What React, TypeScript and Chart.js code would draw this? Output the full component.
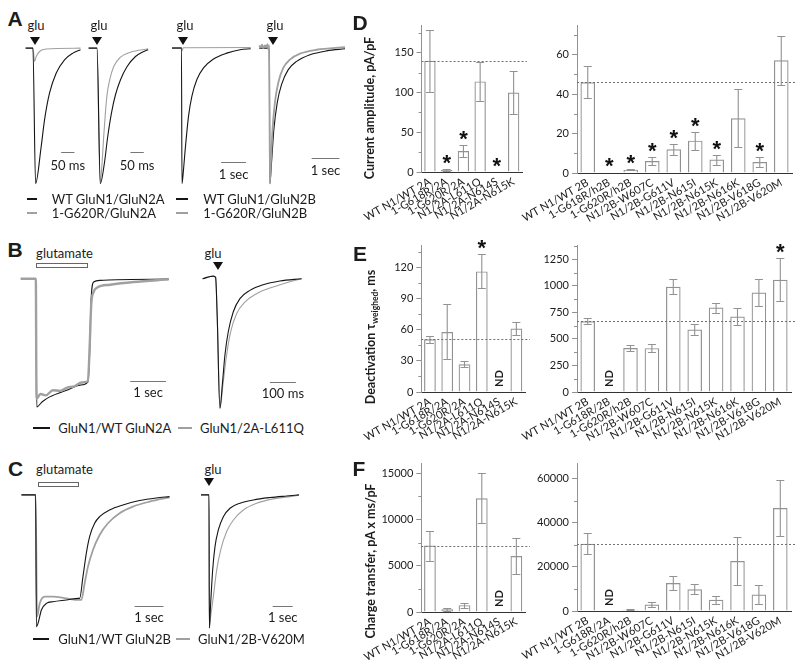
import React, { useEffect, useRef } from "react";
import { Chart, registerables } from "chart.js";

Chart.register(...registerables);

const FONT = "Lato, 'Open Sans', 'DejaVu Sans', sans-serif";
const LETTER_FONT = "'Liberation Sans', Arial, sans-serif";
const INK = "#1c1c1c";
const BLACK_TRACE = "#151515";
const GRAY_TRACE = "#a0a0a0";
const BAR_GRAY = "#929292";

// ---------------- Bar chart data ----------------
const LABELS_2A = ["WT N1/WT 2A", "1-G618R/2A", "1-G620R/2A", "N1/2A-L611Q", "N1/2A-N614S", "N1/2A-N615K"];
const LABELS_2B_REST = ["N1/2B-W607C", "N1/2B-G611V", "N1/2B-N615I", "N1/2B-N615K", "N1/2B-N616K", "N1/2B-V618G", "N1/2B-V620M"];
const LABELS_D_2B = ["WT N1/WT 2B", "1-G618R/h2B", "1-G620R/h2B", ...LABELS_2B_REST];
const LABELS_E_2B = ["WT N1/WT 2B", "1-G618R/2B", "1-G620R/h2B", ...LABELS_2B_REST];
const LABELS_F_2B = ["WT N1/WT 2B", "1-G618R/2A", "1-G620R/h2B", ...LABELS_2B_REST];

// D: current amplitude, pA/pF
const AMP_2A = [140, 2.5, 26.5, 114, 0, 100];
const AMP_2A_ERR = [39, 1, 8, 24.5, 0, 27];
const AMP_2A_STAR = [false, true, true, false, true, false];
const AMP_2B = [46, 0.2, 1.7, 6.1, 12, 16.4, 6.8, 27.7, 5.6, 57.1];
const AMP_2B_ERR = [8, 0, 0.4, 2, 2.7, 4.5, 2.5, 14.7, 2.7, 12.4];
const AMP_2B_STAR = [false, true, true, true, true, true, true, false, true, false];

// E: deactivation tau weighted, ms (null = ND)
const TAU_2A = [51, 58, 26.8, 116.5, null, 61.4];
const TAU_2A_ERR = [3.2, 26.6, 2.7, 16.5, 0, 6.5];
const TAU_2A_STAR = [false, false, false, true, false, false];
const TAU_2B = [667, null, 415, 413, 991, 589, 796, 712, 937, 1058];
const TAU_2B_ERR = [31, 0, 32, 36, 72, 48, 47, 84, 126, 200];
const TAU_2B_STAR = [false, false, false, false, false, false, false, false, false, true];

// F: charge transfer, pA x ms/pF (null = ND)
const Q_2A = [7177, 290, 740, 12290, null, 6040];
const Q_2A_ERR = [1620, 180, 270, 2680, 0, 1930];
const Q_2A_STAR = [false, false, false, false, false, false];
const Q_2B = [30450, null, 600, 2960, 12700, 9870, 5070, 22650, 7500, 46660];
const Q_2B_ERR = [4690, 0, 250, 990, 3180, 2270, 1900, 10830, 4320, 12580];
const Q_2B_STAR = [false, false, false, false, false, false, false, false, false, false];

// ---------------- Trace data: [time, normalized current] ----------------
type Pt = [number, number];
// A, GluN2A, time in ms
const A1_WT: Pt[] = [[0, 0], [27.6, 0], [37.6, -1], [58.6, -0.728], [71.2, -0.531], [90, -0.333], [115, -0.185], [146.6, -0.086], [178, -0.037], [206.8, -0.012]];
const A1_MUT: Pt[] = [[0, 0], [27.6, 0], [33.8, -0.099], [40, -0.062], [52.6, -0.025], [77.7, -0.007], [206.8, 0]];
const A2_WT: Pt[] = [[0, 0], [31.5, 0], [44, -1], [59, -0.852], [71.6, -0.654], [85.4, -0.481], [100.4, -0.346], [119.2, -0.235], [144.3, -0.136], [175.6, -0.062], [200.7, -0.03], [223.2, -0.012]];
const A2_MUT: Pt[] = [[0, 0], [31.5, 0], [43, -1], [50.3, -0.852], [56.5, -0.654], [62.8, -0.481], [69, -0.346], [79, -0.235], [94.1, -0.136], [119.2, -0.067], [156.8, -0.03], [223.2, -0.005]];
// A, GluN2B, time in s
const A3_WT: Pt[] = [[0, 0], [0.38, 0], [0.4, -1], [0.465, -0.89], [0.532, -0.744], [0.665, -0.5], [0.799, -0.354], [0.999, -0.232], [1.265, -0.146], [1.665, -0.08], [2.199, -0.037], [2.732, -0.012], [3.159, -0.005]];
const A3_MUT: Pt[] = [[0, 0.005], [0.38, 0.005], [0.4, -0.02], [0.45, 0.003], [3.159, 0.005]];
const A4_WT: Pt[] = [[0, 0], [0.36, 0], [0.385, -1], [0.445, -0.841], [0.529, -0.598], [0.65, -0.402], [0.806, -0.268], [1.047, -0.159], [1.348, -0.098], [1.829, -0.049], [2.431, -0.02], [3.093, -0.005]];
const A4_MUT: Pt[] = [[0, 0.02], [0.05, 0.005], [0.1, 0.025], [0.15, 0], [0.2, 0.02], [0.25, 0.01], [0.3, 0.03], [0.33, -0.01], [0.36, 0.02], [0.385, -1], [0.421, -0.841], [0.481, -0.598], [0.565, -0.402], [0.686, -0.256], [0.866, -0.146], [1.107, -0.085], [1.468, -0.041], [2.07, -0.012], [3.093, 0.007]];
// B, time in s (B1) and ms (B2)
const B1_WT: Pt[] = [[0, 0], [0.42, 0], [0.447, -1], [0.6, -0.96], [0.821, -0.92], [1.288, -0.87], [1.661, -0.83], [1.876, -0.805], [1.923, -0.6], [1.96, -0.2], [2.035, -0.026], [2.221, -0.013], [2.688, -0.008], [4.135, -0.003]];
const B1_MUT: Pt[] = [[0, 0], [0.42, 0], [0.44, -0.935], [0.55, -0.9], [0.7, -0.91], [0.9, -0.87], [1.1, -0.875], [1.3, -0.85], [1.5, -0.84], [1.7, -0.81], [1.876, -0.8], [1.93, -0.5], [1.97, -0.2], [2.035, -0.104], [2.128, -0.07], [2.5, -0.047], [3.155, -0.026], [4.135, -0.005]];
const B2_WT: Pt[] = [[0, 0], [41, 0.02], [50, 0.01], [56.3, -0.3], [66.5, -1.01], [76.8, -0.805], [85.8, -0.597], [98.6, -0.416], [117.8, -0.26], [143.5, -0.156], [181.9, -0.091], [233.2, -0.047], [297.3, -0.018], [380.7, 0]];
const B2_MUT: Pt[] = [[0, 0], [41, 0.02], [50, 0.01], [56.3, -0.3], [66.5, -1.01], [79.4, -0.805], [92.2, -0.597], [107.6, -0.416], [130.7, -0.273], [162.7, -0.182], [207.6, -0.117], [258.8, -0.073], [323, -0.031], [380.7, 0]];
// C, time in s
const C1_WT: Pt[] = [[0, 0], [0.49, 0], [0.516, -1], [0.573, -0.975], [0.689, -0.873], [0.861, -0.823], [1.091, -0.81], [1.551, -0.797], [1.976, -0.785], [2.01, -0.785], [2.125, -0.62], [2.24, -0.443], [2.355, -0.316], [2.528, -0.215], [2.7, -0.165], [3.045, -0.114], [3.505, -0.076], [4.079, -0.043], [4.654, -0.023], [5.114, -0.013]];
const C1_MUT: Pt[] = [[0, 0], [0.49, 0], [0.539, -0.924], [0.631, -0.823], [0.803, -0.772], [1.091, -0.772], [1.551, -0.785], [1.976, -0.797], [2.068, -0.797], [2.183, -0.671], [2.298, -0.544], [2.47, -0.418], [2.7, -0.304], [2.987, -0.215], [3.39, -0.139], [3.849, -0.089], [4.424, -0.051], [5.114, -0.018]];
const C2_WT: Pt[] = [[0, 0], [0.4, 0], [0.417, -1.01], [0.483, -0.823], [0.583, -0.57], [0.7, -0.392], [0.867, -0.266], [1.117, -0.165], [1.45, -0.101], [1.95, -0.063], [2.617, -0.038], [3.45, -0.02], [4.283, -0.008], [4.9, 0]];
const C2_MUT: Pt[] = [[0, 0], [0.4, 0], [0.417, -1.01], [0.483, -0.924], [0.617, -0.772], [0.783, -0.57], [0.983, -0.418], [1.283, -0.278], [1.617, -0.19], [2.117, -0.114], [2.783, -0.063], [3.617, -0.03], [4.45, -0.013], [4.9, -0.003]];

// ---------------- helpers ----------------
interface Series { data: Pt[]; color: string; width: number }
interface ScaleBar { x: number; y: number; len: number; label: string; dy: number }
interface TraceSpec {
  x0: number; kx: number; xMin: number; xMax: number;
  y0: number; ky: number; yMin: number; yMax: number;
  series: Series[]; bar: ScaleBar;
}

function makeScaleBar(bar: ScaleBar) {
  return {
    id: "scaleBar",
    afterDatasetsDraw(chart: any) {
      const { ctx, scales } = chart;
      const x1 = scales.x.getPixelForValue(bar.x);
      const x2 = scales.x.getPixelForValue(bar.x + bar.len);
      const y = Math.round(scales.y.getPixelForValue(bar.y)) + 0.5;
      ctx.save();
      ctx.strokeStyle = "#777";
      ctx.lineWidth = 1;
      ctx.beginPath();
      ctx.moveTo(x1, y);
      ctx.lineTo(x2, y);
      ctx.stroke();
      ctx.fillStyle = INK;
      ctx.font = `13px ${FONT}`;
      ctx.textAlign = "center";
      ctx.textBaseline = "middle";
      ctx.fillText(bar.label, (x1 + x2) / 2, y + bar.dy);
      ctx.restore();
    },
  };
}

function traceChart(spec: TraceSpec) {
  const left = Math.round(spec.x0 + spec.xMin * spec.kx);
  const top = Math.round(spec.y0 - spec.yMax * spec.ky);
  const width = Math.round((spec.xMax - spec.xMin) * spec.kx);
  const height = Math.round((spec.yMax - spec.yMin) * spec.ky);
  const build = () => ({
    type: "line",
    data: {
      datasets: spec.series.map((s) => ({
        data: s.data,
        borderColor: s.color,
        borderWidth: s.width,
        pointRadius: 0,
        fill: false,
        cubicInterpolationMode: "monotone",
      })),
    },
    options: {
      animation: false,
      responsive: false,
      events: [],
      layout: { padding: 0 },
      plugins: { legend: { display: false }, tooltip: { enabled: false } },
      scales: {
        x: { type: "linear", display: false, min: spec.xMin, max: spec.xMax },
        y: { type: "linear", display: false, min: spec.yMin, max: spec.yMax },
      },
    },
    plugins: [makeScaleBar(spec.bar)],
  });
  return { left, top, width, height, build };
}

interface BarSpec {
  labels: string[]; values: (number | null)[]; errs: number[]; stars: boolean[];
  yMax: number; step: number; minor: number;
  area: { l: number; r: number; t: number; b: number };
}

function drawStar(ctx: CanvasRenderingContext2D, cx: number, cy: number) {
  ctx.save();
  ctx.fillStyle = "#111";
  ctx.font = `bold 22px ${LETTER_FONT}`;
  ctx.textAlign = "center";
  ctx.textBaseline = "alphabetic";
  const m = ctx.measureText("*");
  const base = cy + (m.actualBoundingBoxAscent - m.actualBoundingBoxDescent) / 2;
  ctx.fillText("*", cx, base);
  ctx.restore();
}

function makeBarDecor(spec: BarSpec) {
  return {
    id: "barDecor",
    afterDatasetsDraw(chart: any) {
      const { ctx, chartArea: a, scales } = chart;
      const xs = scales.x, ys = scales.y;
      ctx.save();
      // minor ticks
      ctx.strokeStyle = BAR_GRAY;
      ctx.lineWidth = 1;
      for (let v = spec.minor; v < spec.yMax; v += 2 * spec.minor) {
        const py = Math.round(ys.getPixelForValue(v)) + 0.5;
        ctx.beginPath();
        ctx.moveTo(a.left - 3, py);
        ctx.lineTo(a.left, py);
        ctx.stroke();
      }
      // reference (WT) line
      const ref = spec.values[0] as number;
      const ry = Math.round(ys.getPixelForValue(ref)) + 0.5;
      ctx.strokeStyle = "#707070";
      ctx.setLineDash([2, 2]);
      ctx.beginPath();
      ctx.moveTo(a.left, ry);
      ctx.lineTo(a.right + 5, ry);
      ctx.stroke();
      ctx.setLineDash([]);
      spec.values.forEach((v, i) => {
        const px = xs.getPixelForValue(i);
        if (v === null) {
          ctx.save();
          ctx.translate(px, ys.getPixelForValue(0) - 5);
          ctx.rotate(-Math.PI / 2);
          ctx.fillStyle = INK;
          ctx.font = `bold 11px ${FONT}`;
          ctx.textAlign = "left";
          ctx.textBaseline = "middle";
          ctx.fillText("ND", 0, 0);
          ctx.restore();
          return;
        }
        const e = spec.errs[i];
        let topPx = ys.getPixelForValue(v);
        if (e > 0) {
          const y1 = Math.round(ys.getPixelForValue(v + e)) + 0.5;
          const y2 = Math.round(ys.getPixelForValue(Math.max(0, v - e))) + 0.5;
          ctx.strokeStyle = BAR_GRAY;
          ctx.lineWidth = 1.1;
          ctx.beginPath();
          ctx.moveTo(px, y1);
          ctx.lineTo(px, y2);
          ctx.moveTo(px - 4, y1);
          ctx.lineTo(px + 4, y1);
          ctx.moveTo(px - 4, y2);
          ctx.lineTo(px + 4, y2);
          ctx.stroke();
          topPx = y1;
        }
        if (spec.stars[i]) drawStar(ctx, px, topPx - 10);
      });
      ctx.restore();
    },
  };
}

function barChart(spec: BarSpec) {
  const YW = 60, XH = 62, PT = 10, PR = 10;
  const left = Math.round(spec.area.l - YW);
  const top = Math.round(spec.area.t - PT);
  const width = Math.round(spec.area.r - spec.area.l) + YW + PR;
  const height = Math.round(spec.area.b - spec.area.t) + PT + XH;
  const tickValues: number[] = [];
  for (let v = 0; v <= spec.yMax; v += spec.step) tickValues.push(v);
  const build = () => ({
    type: "bar",
    data: {
      labels: spec.labels,
      datasets: [{
        data: spec.values,
        backgroundColor: "rgba(255,255,255,0)",
        borderColor: BAR_GRAY,
        borderWidth: 1.2,
        barPercentage: 0.68,
        categoryPercentage: 1,
      }],
    },
    options: {
      animation: false,
      responsive: false,
      events: [],
      layout: { padding: { top: PT, right: PR, left: 0, bottom: 0 } },
      plugins: { legend: { display: false }, tooltip: { enabled: false } },
      scales: {
        x: {
          type: "category",
          offset: true,
          grid: { display: false, drawTicks: false },
          border: { display: true, color: "#333", dash: [2, 2], width: 1 },
          ticks: { autoSkip: false, minRotation: 30, maxRotation: 30, padding: 3, color: INK, font: { family: FONT, size: 11 } },
          afterFit: (s: any) => { s.height = XH; },
        },
        y: {
          min: 0,
          max: spec.yMax,
          grid: { drawOnChartArea: false, drawTicks: true, tickLength: 5, color: BAR_GRAY },
          border: { color: BAR_GRAY, width: 1 },
          ticks: { padding: 3, color: INK, font: { family: FONT, size: 11 }, callback: (v: any) => String(v) },
          afterBuildTicks: (s: any) => { s.ticks = tickValues.map((v) => ({ value: v })); },
          afterFit: (s: any) => { s.width = YW; },
        },
      },
    },
    plugins: [makeBarDecor(spec)],
  });
  return { left, top, width, height, build };
}

function CanvasChart(props: { left: number; top: number; width: number; height: number; build: () => any }) {
  const ref = useRef<HTMLCanvasElement>(null);
  useEffect(() => {
    const chart = new Chart(ref.current as HTMLCanvasElement, props.build());
    return () => chart.destroy();
  }, []);
  return (
    <canvas
      ref={ref}
      width={props.width}
      height={props.height}
      style={{ position: "absolute", left: props.left, top: props.top, width: props.width, height: props.height }}
    />
  );
}

// ---------------- chart specs ----------------
const K_A_MS = 0.266;
const K_Y_A = 135.7;
const Y0_A = 48.3;
const bk = (data: Pt[]): Series => ({ data, color: BLACK_TRACE, width: 1.1 });
const gr = (data: Pt[], width = 1.1): Series => ({ data, color: GRAY_TRACE, width });

const TRACES: TraceSpec[] = [
  { x0: 26, kx: K_A_MS, xMin: -6, xMax: 250, y0: Y0_A, ky: K_Y_A, yMin: -1.04, yMax: 0.06,
    series: [bk(A1_WT), gr(A1_MUT)], bar: { x: 134, y: -0.764, len: 50, label: "50 ms", dy: 13 } },
  { x0: 88.3, kx: K_A_MS, xMin: -6, xMax: 260, y0: Y0_A, ky: K_Y_A, yMin: -1.04, yMax: 0.06,
    series: [bk(A2_WT), gr(A2_MUT)], bar: { x: 156.8, y: -0.764, len: 50, label: "50 ms", dy: 13 } },
  { x0: 171.7, kx: 25, xMin: -0.08, xMax: 3.25, y0: Y0_A, ky: K_Y_A, yMin: -1.04, yMax: 0.06,
    series: [bk(A3_WT), gr(A3_MUT)], bar: { x: 1.97, y: -0.838, len: 1, label: "1 sec", dy: 12 } },
  { x0: 259.3, kx: 27.7, xMin: -0.08, xMax: 3.2, y0: Y0_A, ky: K_Y_A, yMin: -1.04, yMax: 0.06,
    series: [gr(A4_MUT, 1.8), bk(A4_WT)], bar: { x: 1.89, y: -0.81, len: 1, label: "1 sec", dy: 12 } },
  { x0: 20.7, kx: 35.7, xMin: -0.05, xMax: 4.2, y0: 278.3, ky: 128.4, yMin: -1.04, yMax: 0.06,
    series: [gr(B1_MUT, 2.4), bk(B1_WT)], bar: { x: 3.06, y: -0.8, len: 1, label: "1 sec", dy: 11 } },
  { x0: 202.7, kx: 0.26, xMin: -10, xMax: 390, y0: 278.3, ky: 128.4, yMin: -1.04, yMax: 0.06,
    series: [bk(B2_WT), gr(B2_MUT)], bar: { x: 258.8, y: -0.805, len: 100, label: "100 ms", dy: 11 } },
  { x0: 21.7, kx: 29, xMin: -0.05, xMax: 5.2, y0: 495, ky: 131.7, yMin: -1.04, yMax: 0.06,
    series: [bk(C1_WT), gr(C1_MUT, 1.8)], bar: { x: 3.907, y: -0.843, len: 1, label: "1 sec", dy: 11 } },
  { x0: 201, kx: 20, xMin: -0.05, xMax: 5.0, y0: 495, ky: 131.7, yMin: -1.04, yMax: 0.06,
    series: [bk(C2_WT), gr(C2_MUT)], bar: { x: 3.585, y: -0.843, len: 1, label: "1 sec", dy: 11 } },
];

const BARS: BarSpec[] = [
  { labels: LABELS_2A, values: AMP_2A, errs: AMP_2A_ERR, stars: AMP_2A_STAR, yMax: 185, step: 50, minor: 25, area: { l: 417, r: 522, t: 25, b: 172 } },
  { labels: LABELS_D_2B, values: AMP_2B, errs: AMP_2B_ERR, stars: AMP_2B_STAR, yMax: 75, step: 20, minor: 10, area: { l: 577, r: 792, t: 25, b: 172.5 } },
  { labels: LABELS_2A, values: TAU_2A, errs: TAU_2A_ERR, stars: TAU_2A_STAR, yMax: 142, step: 30, minor: 15, area: { l: 417, r: 525, t: 245, b: 391.7 } },
  { labels: LABELS_E_2B, values: TAU_2B, errs: TAU_2B_ERR, stars: TAU_2B_STAR, yMax: 1385, step: 250, minor: 125, area: { l: 577, r: 791, t: 245, b: 391.7 } },
  { labels: LABELS_2A, values: Q_2A, errs: Q_2A_ERR, stars: Q_2A_STAR, yMax: 16100, step: 5000, minor: 2500, area: { l: 417, r: 525, t: 463, b: 612 } },
  { labels: LABELS_F_2B, values: Q_2B, errs: Q_2B_ERR, stars: Q_2B_STAR, yMax: 67000, step: 20000, minor: 10000, area: { l: 577, r: 791, t: 463.3, b: 611 } },
];

// ---------------- HTML annotation helpers ----------------
function T(p: { x: number; y: number; children: React.ReactNode; size?: number; weight?: number | string; left?: boolean; family?: string }) {
  return (
    <div
      style={{
        position: "absolute",
        left: p.x,
        top: p.y,
        transform: p.left ? "translate(0,-50%)" : "translate(-50%,-50%)",
        fontSize: p.size ?? 13,
        fontWeight: p.weight ?? 400,
        fontFamily: p.family ?? FONT,
        lineHeight: 1,
        whiteSpace: "nowrap",
        color: INK,
      }}
    >
      {p.children}
    </div>
  );
}

function VT(p: { x: number; y: number; children: React.ReactNode }) {
  return (
    <div
      style={{
        position: "absolute",
        left: p.x,
        top: p.y,
        transform: "translate(-50%,-50%) rotate(-90deg)",
        fontSize: 12.5,
        fontWeight: 700,
        fontFamily: FONT,
        lineHeight: 1,
        whiteSpace: "nowrap",
        color: INK,
      }}
    >
      {p.children}
    </div>
  );
}

function Tri(p: { cx: number; top: number }) {
  return (
    <div
      style={{
        position: "absolute",
        left: p.cx - 5,
        top: p.top,
        width: 0,
        height: 0,
        borderLeft: "5px solid transparent",
        borderRight: "5px solid transparent",
        borderTop: "8px solid #111",
      }}
    />
  );
}

function Stim(p: { x1: number; x2: number; y: number }) {
  return (
    <div
      style={{
        position: "absolute",
        left: p.x1,
        top: p.y,
        width: p.x2 - p.x1,
        height: 5,
        boxSizing: "border-box",
        border: "1px solid #666",
        background: "#fff",
      }}
    />
  );
}

function LegLine(p: { x1: number; x2: number; y: number; color: string }) {
  return <div style={{ position: "absolute", left: p.x1, top: p.y - 1, width: p.x2 - p.x1, height: 2, background: p.color }} />;
}

function Letter(p: { x: number; y: number; c: string }) {
  return <T x={p.x} y={p.y} size={21} weight={700} family={LETTER_FONT}>{p.c}</T>;
}

export default function App() {
  const traces = TRACES.map(traceChart);
  const bars = BARS.map(barChart);
  return (
    <div style={{ position: "absolute", left: 0, top: 0, width: 800, height: 668, background: "#fff", overflow: "hidden", fontFamily: FONT }}>
      {traces.map((t, i) => <CanvasChart key={"t" + i} {...t} />)}
      {bars.map((b, i) => <CanvasChart key={"b" + i} {...b} />)}

      {/* panel letters */}
      <Letter x={15} y={17.5} c="A" />
      <Letter x={15} y={249} c="B" />
      <Letter x={15.5} y={468} c="C" />
      <Letter x={360} y={21.5} c="D" />
      <Letter x={360} y={252.5} c="E" />
      <Letter x={359} y={467.5} c="F" />

      {/* y titles */}
      <VT x={370} y={108}>Current amplitude, pA/pF</VT>
      <VT x={372} y={337}>Deactivation τ<sub style={{ fontSize: 8.5 }}>weighed</sub>, ms</VT>
      <VT x={371} y={561}>Charge transfer, pA x ms/pF</VT>

      {/* panel A annotations */}
      <T x={36} y={25}>glu</T>
      <T x={99} y={25}>glu</T>
      <T x={185} y={25}>glu</T>
      <T x={275} y={25}>glu</T>
      <Tri cx={35} top={37} />
      <Tri cx={97} top={37} />
      <Tri cx={183} top={37} />
      <Tri cx={273} top={37} />
      <LegLine x1={27} x2={37} y={199.3} color={BLACK_TRACE} />
      <LegLine x1={27} x2={37} y={212.7} color={GRAY_TRACE} />
      <T x={51.7} y={199.3} left>WT GluN1/GluN2A</T>
      <T x={51.7} y={212.7} left>1-G620R/GluN2A</T>
      <LegLine x1={176} x2={188} y={199.3} color={BLACK_TRACE} />
      <LegLine x1={176} x2={188} y={212.7} color={GRAY_TRACE} />
      <T x={203.3} y={199.3} left>WT GluN1/GluN2B</T>
      <T x={203.3} y={212.7} left>1-G620R/GluN2B</T>

      {/* panel B annotations */}
      <T x={64.5} y={252.7}>glutamate</T>
      <Stim x1={35.7} x2={87.7} y={263} />
      <T x={213} y={253}>glu</T>
      <Tri cx={218.3} top={262} />
      <LegLine x1={33.3} x2={50} y={428} color={BLACK_TRACE} />
      <T x={58.3} y={428} left>GluN1/WT GluN2A</T>
      <LegLine x1={178} x2={192} y={428} color={GRAY_TRACE} />
      <T x={200} y={428} left>GluN1/2A-L611Q</T>

      {/* panel C annotations */}
      <T x={64.5} y={469.3}>glutamate</T>
      <Stim x1={37.7} x2={79} y={481.5} />
      <T x={213} y={469.3}>glu</T>
      <Tri cx={209.3} top={478} />
      <LegLine x1={33.3} x2={49.3} y={639.3} color={BLACK_TRACE} />
      <T x={58.3} y={639.3} left>GluN1/WT GluN2B</T>
      <LegLine x1={176} x2={190} y={639.3} color={GRAY_TRACE} />
      <T x={198} y={639.3} left>GluN1/2B-V620M</T>
    </div>
  );
}
